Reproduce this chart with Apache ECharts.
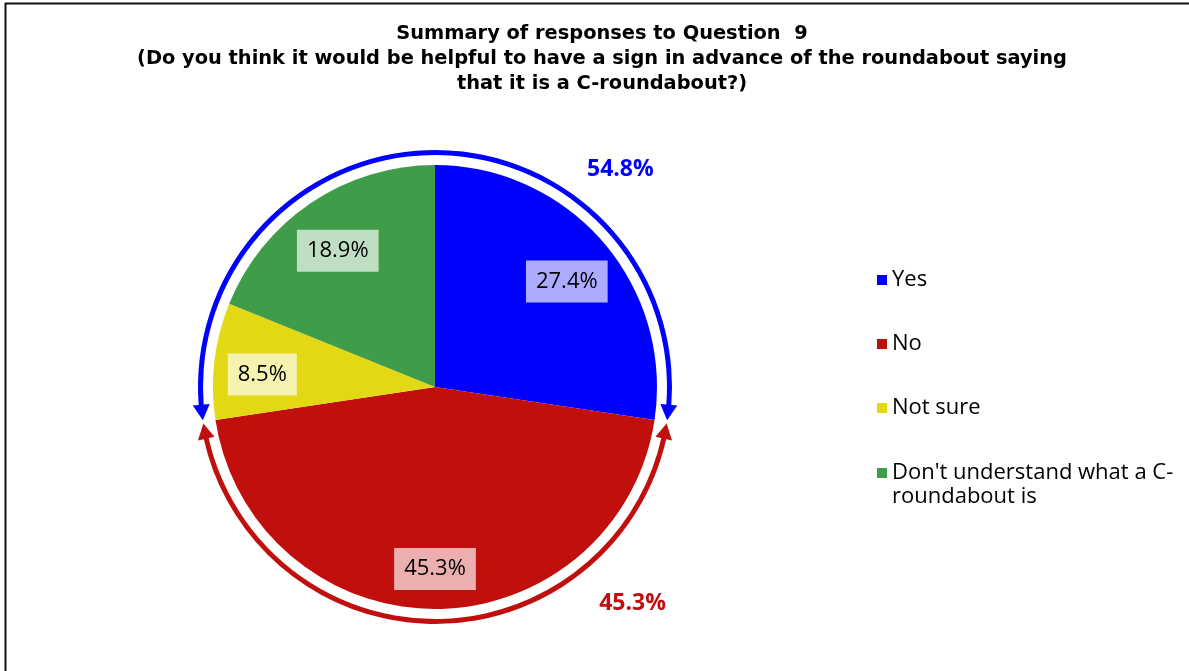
<!DOCTYPE html>
<html>
<head>
<meta charset="utf-8">
<script src="https://cdn.jsdelivr.net/npm/echarts@6/dist/echarts.min.js"></script>
<style>
  html, body { margin: 0; padding: 0; background: #fff; }
  #chart { width: 1189px; height: 671px; }
</style>
</head>
<body>
<div id="chart"></div>
<script>
var titleText = 'Summary of responses to Question  9\n(Do you think it would be helpful to have a sign in advance of the roundabout saying\nthat it is a C-roundabout?)';
var categories = ['Yes', 'No', 'Not sure', "Don't understand what a C-roundabout is"];
// leading newline on the long one keeps its first line level with the swatch
var legendLabels = ['Yes', 'No', 'Not sure', "\nDon't understand what a C-\nroundabout is"];
var values = [27.4, 45.3, 8.5, 18.9];
var colors = ['#0000FF', '#C00F0C', '#E2D914', '#3F9C48'];

// outer ring: "No" against everything else
var groupNames = ['No (total)', 'Yes / Not sure / Don\'t understand (total)'];
var groupValues = [45.3, 54.8];
var groupColors = ['#C00F0C', '#0000FF'];

var font = 'Open Sans';
var cx = 435, cy = 387, R = 222;
var ringIn = 232, ringOut = 237;

var total = values.reduce(function (a, b) { return a + b; }, 0);
// ring starts at the Yes/No boundary
var ringStart = 90 - 360 * values[0] / total;

// screen angles (deg, clockwise from +x) of the two ring boundaries
var b1 = -ringStart;
var b2 = b1 + 360 * groupValues[0] / total;

function pt(r, deg) {
    var a = deg * Math.PI / 180;
    return [cx + r * Math.cos(a), cy + r * Math.sin(a)];
}
function arrowHead(tipDeg, baseDeg, color) {
    var rm = (ringIn + ringOut) / 2;
    return {
        type: 'polygon',
        shape: { points: [pt(rm, tipDeg), pt(rm - 8.5, baseDeg), pt(rm + 8.5, baseDeg)] },
        style: { fill: color },
        silent: true
    };
}

var chart = echarts.init(document.getElementById('chart'));
chart.setOption({
    backgroundColor: '#fff',
    animation: false,
    legend: [{
        orient: 'vertical',
        left: 872,
        top: 263,
        itemWidth: 10,
        itemHeight: 10,
        itemGap: 40,
        icon: 'rect',
        selectedMode: false,
        data: categories.slice(0, 3),
        formatter: function (name) { return legendLabels[categories.indexOf(name)]; },
        textStyle: { fontFamily: font, fontSize: 22, lineHeight: 24, color: '#000' }
    }, {
        orient: 'vertical',
        left: 872,
        top: 432,
        itemWidth: 10,
        itemHeight: 10,
        icon: 'rect',
        selectedMode: false,
        data: categories.slice(3),
        formatter: function (name) { return legendLabels[categories.indexOf(name)]; },
        textStyle: { fontFamily: font, fontSize: 22, lineHeight: 24, color: '#000' }
    }],
    series: [{
        name: 'Responses',
        type: 'pie',
        center: [cx, cy],
        radius: [0, R],
        startAngle: 90,
        silent: true,
        label: { show: false },
        labelLine: { show: false },
        data: categories.map(function (c, i) {
            return { name: c, value: values[i], itemStyle: { color: colors[i] } };
        })
    }, {
        // transparent copy, only to place the value boxes further out
        name: 'Labels',
        type: 'pie',
        center: [cx, cy + 8],
        radius: [R * 0.54, R],
        startAngle: 90,
        silent: true,
        legendHoverLink: false,
        itemStyle: { color: 'rgba(0,0,0,0)' },
        label: {
            show: true,
            position: 'inside',
            formatter: function (p) { return p.value.toFixed(1) + '%'; },
            fontFamily: font,
            fontSize: 22,
            lineHeight: 30,
            color: '#000',
            backgroundColor: 'rgba(255,255,255,0.67)',
            padding: [6, 10]
        },
        labelLine: { show: false },
        data: categories.map(function (c, i) {
            return { name: c, value: values[i] };
        })
    }, {
        name: 'Groups',
        type: 'pie',
        center: [cx, cy],
        radius: [ringIn, ringOut],
        startAngle: ringStart,
        padAngle: 8,
        silent: true,
        label: {
            show: true,
            position: 'outside',
            formatter: function (p) { return p.value.toFixed(1) + '%'; },
            fontFamily: font,
            fontSize: 23,
            fontWeight: 'bold',
            color: 'inherit'
        },
        labelLine: { show: false },
        labelLayout: function (p) {
            // red total sits lower right, blue total upper right
            var pos = p.dataIndex === 0 ? pt(293, 47.6) : pt(286, -49.6);
            return { x: pos[0], y: pos[1], align: 'center', verticalAlign: 'middle' };
        },
        data: groupNames.map(function (n, i) {
            return { name: n, value: groupValues[i], itemStyle: { color: groupColors[i] }, label: { color: groupColors[i] } };
        })
    }],
    graphic: [
        {
            type: 'text',
            x: 602,
            y: 21,
            silent: true,
            style: {
                text: titleText,
                fill: '#000',
                font: 'bold 19.4px "DejaVu Sans"',
                lineHeight: 25,
                align: 'center',
                textAlign: 'center',
                verticalAlign: 'top'
            }
        },
        arrowHead(b1 - 0.4, b1 - 4.2, groupColors[1]),
        arrowHead(b1 + 0.4, b1 + 4.2, groupColors[0]),
        arrowHead(b2 - 0.4, b2 - 4.2, groupColors[0]),
        arrowHead(b2 + 0.4, b2 + 4.2, groupColors[1]),
        { type: 'line', shape: { x1: 5.5, y1: 3, x2: 5.5, y2: 671 }, style: { stroke: '#111', lineWidth: 2 }, silent: true },
        { type: 'line', shape: { x1: 5, y1: 3.5, x2: 1189, y2: 3.5 }, style: { stroke: '#111', lineWidth: 2 }, silent: true }
    ]
});
</script>
</body>
</html>
